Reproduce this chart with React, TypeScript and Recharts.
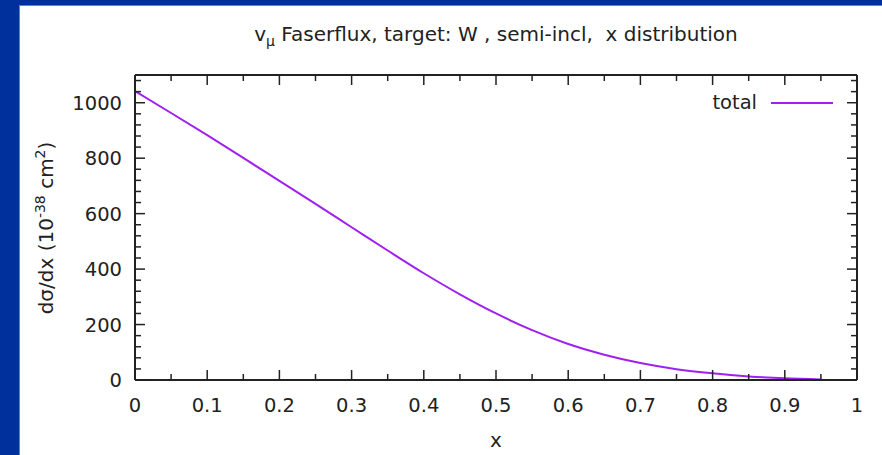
import { Legend, Line, LineChart, XAxis, YAxis } from 'recharts';

// x grid of the curve and dσ/dx values
const xValues = [0, 0.05, 0.1, 0.15, 0.2, 0.25, 0.3, 0.35, 0.4, 0.45, 0.5, 0.55, 0.6, 0.65, 0.7, 0.75, 0.8, 0.85, 0.9, 0.95];
const totalValues = [1042, 963, 883, 801, 718, 635, 551, 467, 385, 309, 240, 180, 130, 91, 61, 39, 24, 13, 6, 2];

// gnuplot style ticks: majors get labels, minors are just short marks
const xMajorTicks = [0, 0.1, 0.2, 0.3, 0.4, 0.5, 0.6, 0.7, 0.8, 0.9, 1];
const xMinorTicks = [0.05, 0.15, 0.25, 0.35, 0.45, 0.55, 0.65, 0.75, 0.85, 0.95];
const yMajorTicks = [0, 200, 400, 600, 800, 1000];
const yMinorTicks = [40, 80, 120, 160, 240, 280, 320, 360, 440, 480, 520, 560, 640, 680, 720, 760, 840, 880, 920, 960, 1040, 1080];

const data = xValues.map((x, i) => ({ x, total: totalValues[i] }));
const xTicks = [...xMajorTicks, ...xMinorTicks].sort((a, b) => a - b);
const yTicks = [...yMajorTicks, ...yMinorTicks].sort((a, b) => a - b);

const FONT = '"DejaVu Sans", sans-serif';
const INK = '#222';
const LINE = '#a020f0';
const MAJOR = 10;
const MINOR = 6;
const TICK_FONT = 19.5;

const isXMajor = (v: number) => xMajorTicks.some((m) => Math.abs(m - v) < 1e-6);
const isYMajor = (v: number) => yMajorTicks.includes(v);

function BottomTick({ x, y, payload }: any) {
  const major = isXMajor(payload.value);
  return (
    <g>
      <line x1={x} y1={y} x2={x} y2={y - (major ? MAJOR : MINOR)} stroke={INK} strokeWidth={1.5} />
      {major && (
        <text x={x} y={y + 32} textAnchor="middle" fill={INK} fontSize={TICK_FONT} fontFamily={FONT}>
          {String(Math.round(payload.value * 10) / 10)}
        </text>
      )}
    </g>
  );
}

function TopTick({ x, y, payload }: any) {
  const len = isXMajor(payload.value) ? MAJOR : MINOR;
  return <line x1={x} y1={y} x2={x} y2={y + len} stroke={INK} strokeWidth={1.5} />;
}

function LeftTick({ x, y, payload }: any) {
  const major = isYMajor(payload.value);
  return (
    <g>
      <line x1={x} y1={y} x2={x + (major ? MAJOR : MINOR)} y2={y} stroke={INK} strokeWidth={1.5} />
      {major && (
        <text x={x - 13} y={y} dy="0.36em" textAnchor="end" fill={INK} fontSize={TICK_FONT} fontFamily={FONT}>
          {payload.value}
        </text>
      )}
    </g>
  );
}

function RightTick({ x, y, payload }: any) {
  const len = isYMajor(payload.value) ? MAJOR : MINOR;
  return <line x1={x} y1={y} x2={x - len} y2={y} stroke={INK} strokeWidth={1.5} />;
}

function LegendBox({ payload }: any) {
  const item = payload && payload[0];
  return (
    <div style={{ display: 'flex', alignItems: 'center', justifyContent: 'flex-end', fontFamily: FONT, fontSize: TICK_FONT, color: INK }}>
      <span>{item ? item.value : 'total'}</span>
      <svg width={62} height={4} style={{ marginLeft: 14 }}>
        <line x1={0} y1={2} x2={62} y2={2} stroke={LINE} strokeWidth={2} />
      </svg>
    </div>
  );
}

export default function App() {
  const axisLine = { stroke: INK, strokeWidth: 2 };
  return (
    <div style={{ position: 'fixed', left: 0, top: 0, width: 882, height: 455, background: '#00309c', overflow: 'hidden' }}>
      <div
        style={{
          position: 'absolute',
          left: 19,
          top: 5,
          right: 0,
          bottom: 0,
          background: '#fff',
          borderLeft: '1px solid #5b80d8',
          borderTop: '1px solid #5b80d8',
        }}
      />

      <div
        style={{
          position: 'absolute',
          left: 135,
          width: 722,
          top: 22,
          textAlign: 'center',
          fontFamily: FONT,
          fontSize: 20,
          color: INK,
          whiteSpace: 'pre',
        }}
      >
        v<sub style={{ fontSize: 14 }}>μ</sub> Faserflux, target: W , semi-incl,  x distribution
      </div>

      <div
        style={{
          position: 'absolute',
          left: 45,
          top: 228,
          transform: 'translate(-50%, -50%) rotate(-90deg)',
          fontFamily: FONT,
          fontSize: 20,
          color: INK,
          whiteSpace: 'nowrap',
        }}
      >
        dσ/dx (10<sup style={{ fontSize: 14 }}>-38</sup> cm<sup style={{ fontSize: 14 }}>2</sup>)
      </div>

      <div
        style={{
          position: 'absolute',
          left: 496,
          top: 440,
          transform: 'translate(-50%, -50%)',
          fontFamily: FONT,
          fontSize: 20,
          color: INK,
        }}
      >
        x
      </div>

      <div style={{ position: 'absolute', left: 0, top: 0 }}>
        <LineChart width={882} height={455} data={data} margin={{ top: 74, right: 24, bottom: 45, left: 75 }}>
          <XAxis
            xAxisId="b"
            dataKey="x"
            type="number"
            domain={[0, 1]}
            allowDataOverflow
            ticks={xTicks}
            interval={0}
            height={30}
            tickSize={0}
            tickMargin={0}
            tickLine={false}
            axisLine={axisLine}
            tick={BottomTick}
          />
          <XAxis
            xAxisId="t"
            orientation="top"
            dataKey="x"
            type="number"
            domain={[0, 1]}
            allowDataOverflow
            ticks={xTicks}
            interval={0}
            height={1}
            tickSize={0}
            tickMargin={0}
            tickLine={false}
            axisLine={axisLine}
            tick={TopTick}
          />
          <YAxis
            yAxisId="l"
            type="number"
            domain={[0, 1100]}
            allowDataOverflow
            ticks={yTicks}
            interval={0}
            width={60}
            tickSize={0}
            tickMargin={0}
            tickLine={false}
            axisLine={axisLine}
            tick={LeftTick}
          />
          <YAxis
            yAxisId="r"
            orientation="right"
            type="number"
            domain={[0, 1100]}
            allowDataOverflow
            ticks={yTicks}
            interval={0}
            width={1}
            tickSize={0}
            tickMargin={0}
            tickLine={false}
            axisLine={axisLine}
            tick={RightTick}
          />
          <Legend
            layout="vertical"
            align="center"
            verticalAlign="middle"
            wrapperStyle={{ top: 91, left: 690, width: 143 }}
            content={LegendBox}
          />
          <Line
            xAxisId="b"
            yAxisId="l"
            dataKey="total"
            name="total"
            type="monotone"
            stroke={LINE}
            strokeWidth={2}
            dot={false}
            isAnimationActive={false}
          />
        </LineChart>
      </div>
    </div>
  );
}
